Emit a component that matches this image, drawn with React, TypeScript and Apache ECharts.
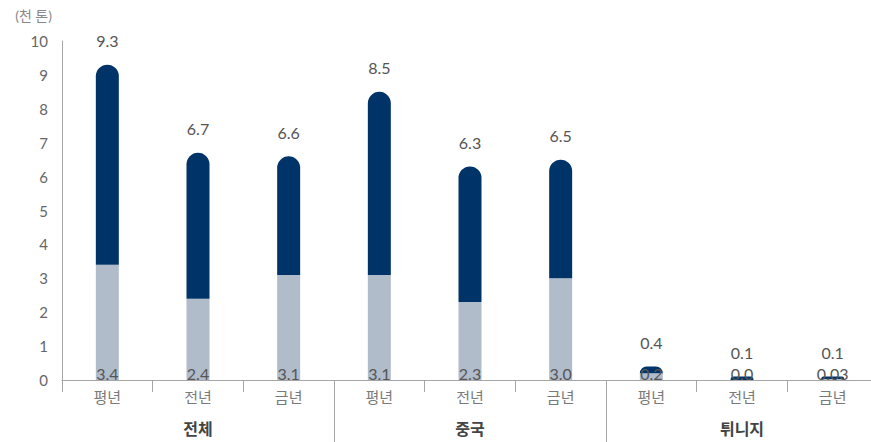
import React, { useEffect, useRef } from "react";
import * as echarts from "echarts";

const categories = ["평년", "전년", "금년", "평년", "전년", "금년", "평년", "전년", "금년"];
const groups = ["전체", "중국", "튀니지"];
const totals = [9.3, 6.7, 6.6, 8.5, 6.3, 6.5, 0.4, 0.1, 0.1];
const bottoms = [3.4, 2.4, 3.1, 3.1, 2.3, 3.0, 0.2, 0.0, 0.03];
const yTicks = [0, 1, 2, 3, 4, 5, 6, 7, 8, 9, 10];

const FONT = "'Lato', 'Noto Sans CJK KR', sans-serif";

export default function App() {
  const ref = useRef<HTMLDivElement>(null);
  useEffect(() => {
    if (!ref.current) return;
    const chart = echarts.init(ref.current, null, { renderer: "svg" });
    const tops = totals.map((t, i) => Math.round((t - bottoms[i]) * 1000) / 1000);
    chart.setOption({
      animation: false,
      textStyle: { fontFamily: FONT },
      grid: { left: 62, right: 0, top: 41, bottom: 62, containLabel: false },
      xAxis: [
        {
          type: "category",
          data: categories,
          axisLine: { lineStyle: { color: "#a6a6a6", width: 1 } },
          axisTick: { show: true, interval: 0, length: 12, lineStyle: { color: "#a6a6a6" } },
          axisLabel: { interval: 0, margin: 9, fontSize: 15, color: "#7a7a7a", fontFamily: FONT },
        },
        {
          type: "value",
          min: 0,
          max: 9,
          position: "bottom",
          axisLine: { show: false },
          splitLine: { show: false },
          axisTick: { show: true, customValues: [3, 6], length: 62, lineStyle: { color: "#a6a6a6" } },
          axisLabel: {
            customValues: [1.5, 4.5, 7.5],
            formatter: (v: number) => groups[Math.floor(v / 3)],
            margin: 40,
            fontSize: 16,
            fontWeight: "bold",
            color: "#444",
            fontFamily: FONT,
          },
        },
      ],
      yAxis: {
        type: "value",
        min: 0,
        max: 10,
        interval: 1,
        name: "(천 톤)",
        nameLocation: "end",
        nameGap: 19,
        nameTextStyle: { align: "right", padding: [0, 10, 0, 0], fontSize: 14, color: "#888", fontFamily: FONT },
        axisLine: { show: true, lineStyle: { color: "#a6a6a6" } },
        axisTick: { show: false },
        splitLine: { show: false },
        axisLabel: {
          margin: 14,
          fontSize: 15,
          color: "#666",
          fontFamily: FONT,
          customValues: yTicks,
        },
      },
      series: [
        {
          type: "bar",
          stack: "s",
          barWidth: 23,
          data: bottoms,
          itemStyle: { color: "#b1bccb" },
          label: {
            show: true,
            position: "insideBottom",
            distance: -1,
            fontSize: 16,
            color: "#555",
            fontFamily: FONT,
            formatter: (p: any) => {
              const v = bottoms[p.dataIndex];
              return v > 0 && v < 0.1 ? v.toFixed(2) : v.toFixed(1);
            },
          },
        },
        {
          type: "bar",
          stack: "s",
          barWidth: 23,
          data: tops,
          itemStyle: { color: "#003468", borderRadius: [12, 12, 0, 0] },
          label: {
            show: true,
            position: "top",
            distance: 16,
            fontSize: 16,
            color: "#555",
            fontFamily: FONT,
            formatter: (p: any) => totals[p.dataIndex].toFixed(1),
          },
        },
      ],
    });
    return () => chart.dispose();
  }, []);
  return (
    <div
      style={{ position: "fixed", left: 0, top: 0, width: 871, height: 442, overflow: "hidden", background: "#fff" }}
    >
      <div ref={ref} style={{ position: "absolute", left: 0, top: 0, width: 878, height: 442 }} />
    </div>
  );
}
